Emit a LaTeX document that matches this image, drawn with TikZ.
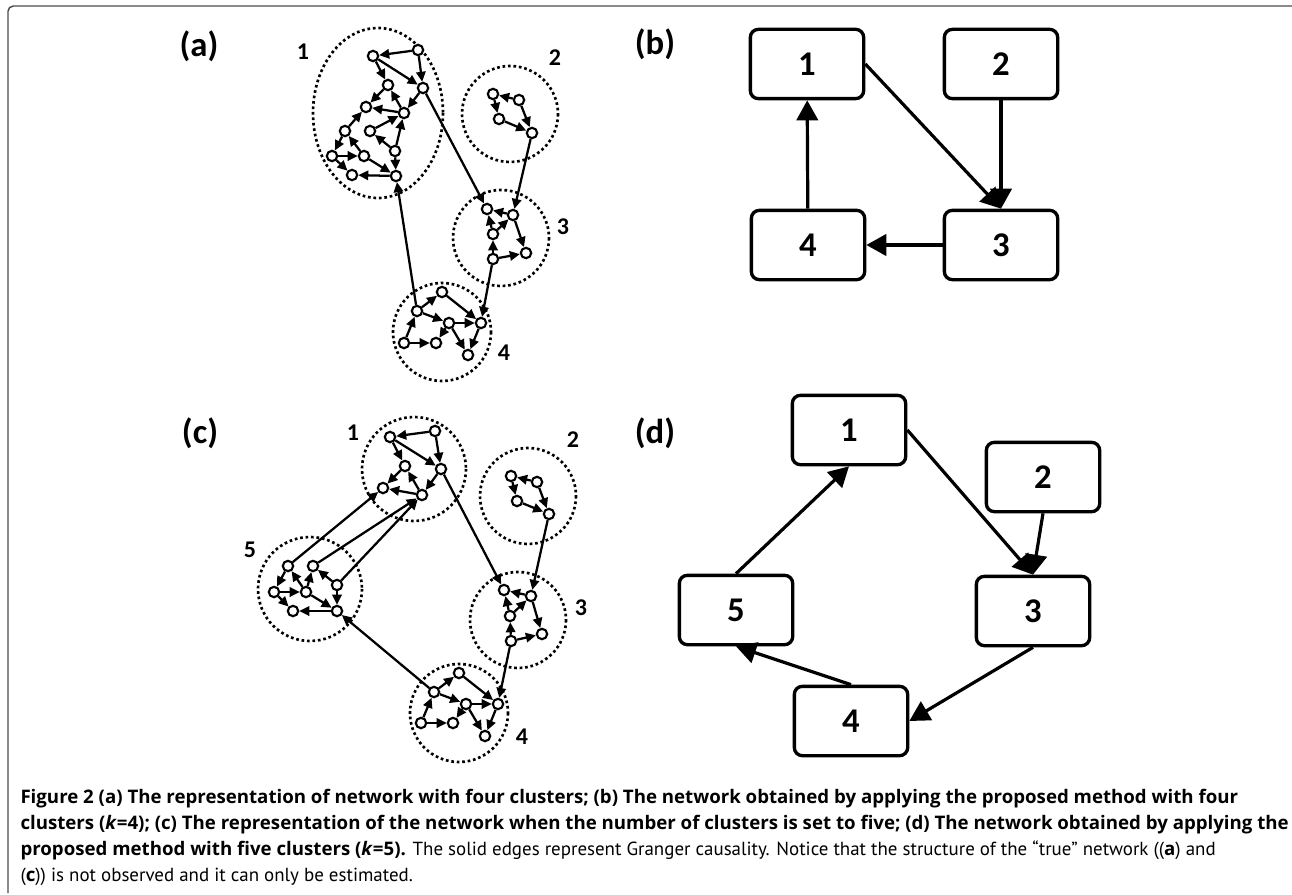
\documentclass[tikz,border=0pt]{standalone}
\usepackage{fontspec}
\setmainfont{Carlito}
\newfontfamily\capfont{PT Sans}
\newfontfamily\capbf{Open Sans}
\usetikzlibrary{arrows.meta}

\tikzset{every picture/.style={line width=0.75pt}}
\tikzset{
  vtx/.style={circle,draw,fill=white,line width=1.6pt,inner sep=0pt,minimum size=7.8pt},
  arr/.style={line width=1.7pt,-{Triangle[length=7.5pt,width=7pt]}},
  clus/.style={line width=2pt,dash pattern=on 2pt off 2.1pt},
  bx/.style={draw,line width=2.5pt,rounded corners=6pt,minimum width=85pt,minimum height=52pt,inner sep=0pt,font=\bfseries\fontsize{26}{26}\selectfont},
  barr/.style={line width=2.4pt,-{Triangle[length=15pt,width=16pt]}},
  plab/.style={inner sep=0pt,font=\bfseries\fontsize{26}{26}\selectfont},
  clab/.style={inner sep=0pt,font=\bfseries\fontsize{18}{18}\selectfont},
}
\newcommand{\capb}[1]{{\capbf\fontsize{14}{19.5}\selectfont\bfseries #1}}

\begin{document}
\begin{tikzpicture}[x=0.75pt,y=0.75pt,yscale=-1,xscale=1]
\useasboundingbox (0,0) rectangle (1292,895);

%Frame
\draw [color={rgb, 255:red, 77; green, 77; blue, 77 }, line width=1.1pt, rounded corners=4] (8,893) -- (8,6) -- (1292,6) ;

% Text Node
\node[plab] (la) at (199,46) {(a)};
\node[plab] (lb) at (655,44) {(b)};
\node[plab] (lc) at (200,433) {(c)};
\node[plab] (ld) at (655,433) {(d)};

%Clusters (a)
\draw [clus] (378,113) ellipse [x radius=65, y radius=85] ;
\draw [clus] (510,114) circle [radius=48] ;
\draw [clus] (501,238) circle [radius=48] ;
\draw [clus] (442,332) circle [radius=49] ;
\node[clab] (ka1) at (303,52) {1};
\node[clab] (ka2) at (555,58) {2};
\node[clab] (ka3) at (563,227) {3};
\node[clab] (ka4) at (504,353) {4};

%Vertices cluster 1
\node[vtx] (u1) at (418,50) {};
\node[vtx] (u2) at (373,56) {};
\node[vtx] (u3) at (423,88) {};
\node[vtx] (u4) at (388,85) {};
\node[vtx] (u5) at (366,107) {};
\node[vtx] (u6) at (404,113) {};
\node[vtx] (u7) at (345,131) {};
\node[vtx] (u8) at (370,131) {};
\node[vtx] (u9) at (332,156) {};
\node[vtx] (u10) at (364,156) {};
\node[vtx] (u11) at (395,151) {};
\node[vtx] (u12) at (352,175) {};
\node[vtx] (u13) at (396,176) {};
%Vertices cluster 2
\node[vtx] (v1) at (493,94) {};
\node[vtx] (v2) at (519,100) {};
\node[vtx] (v3) at (499,119) {};
\node[vtx] (v4) at (532,133) {};
%Vertices cluster 3
\node[vtx] (w1) at (487,209) {};
\node[vtx] (w2) at (513,215) {};
\node[vtx] (w3) at (493,234) {};
\node[vtx] (w4) at (493,259) {};
\node[vtx] (w5) at (526,253) {};
%Vertices cluster 4
\node[vtx] (z1) at (417,311) {};
\node[vtx] (z2) at (442,292) {};
\node[vtx] (z3) at (449,323) {};
\node[vtx] (z4) at (481,323) {};
\node[vtx] (z5) at (404,343) {};
\node[vtx] (z6) at (436,343) {};
\node[vtx] (z7) at (468,355) {};

%Edges (a)
\draw [arr] (u1) -- (u2) ; \draw [arr] (u2) -- (u3) ; \draw [arr] (u1) -- (u3) ;
\draw [arr] (u2) -- (u4) ; \draw [arr] (u3) -- (u6) ; \draw [arr] (u6) -- (u4) ;
\draw [arr] (u4) -- (u5) ; \draw [arr] (u6) -- (u5) ; \draw [arr] (u7) -- (u5) ;
\draw [arr] (u7) -- (u9) ; \draw [arr] (u10) -- (u7) ; \draw [arr] (u9) -- (u10) ;
\draw [arr] (u9) -- (u12) ; \draw [arr] (u13) -- (u12) ; \draw [arr] (u10) -- (u13) ;
\draw [arr] (u11) -- (u13) ; \draw [arr] (u11) -- (u8) ; \draw [arr] (u8) -- (u6) ;
\draw [arr] (u11) -- (u6) ;
\draw [arr] (v2) -- (v1) ; \draw [arr] (v1) -- (v3) ; \draw [arr] (v3) -- (v4) ; \draw [arr] (v2) -- (v4) ;
\draw [arr] (w2) -- (w1) ; \draw [arr] (w3) -- (w1) ; \draw [arr] (w3) -- (w2) ;
\draw [arr] (w4) -- (w3) ; \draw [arr] (w4) -- (w5) ; \draw [arr] (w2) -- (w5) ;
\draw [arr] (z1) -- (z2) ; \draw [arr] (z5) -- (z1) ; \draw [arr] (z1) -- (z3) ;
\draw [arr] (z2) -- (z4) ; \draw [arr] (z3) -- (z4) ; \draw [arr] (z5) -- (z6) ;
\draw [arr] (z3) -- (z6) ; \draw [arr] (z3) -- (z7) ; \draw [arr] (z4) -- (z7) ;
\draw [arr] (u3) -- (w1) ; \draw [arr] (v4) -- (w2) ; \draw [arr] (w4) -- (z4) ; \draw [arr] (z1) -- (u13) ;

%Clusters (c)
\draw [clus] (414,469) circle [radius=52] ;
\draw [clus] (528,496) circle [radius=48] ;
\draw [clus] (518,620) circle [radius=48] ;
\draw [clus] (459,713) circle [radius=49] ;
\draw [clus] (310,589) circle [radius=52] ;
\node[clab] (kc1) at (353,433) {1};
\node[clab] (kc2) at (573,440) {2};
\node[clab] (kc3) at (581,608) {3};
\node[clab] (kc4) at (522,737) {4};
\node[clab] (kc5) at (250,550) {5};

%Vertices cluster 1
\node[vtx] (cu1) at (435,431) {};
\node[vtx] (cu2) at (390,437) {};
\node[vtx] (cu3) at (441,469) {};
\node[vtx] (cu4) at (405,466) {};
\node[vtx] (cu5) at (383,488) {};
\node[vtx] (cu6) at (422,495) {};
%Vertices cluster 2
\node[vtx] (cv1) at (511,476) {};
\node[vtx] (cv2) at (537,482) {};
\node[vtx] (cv3) at (517,501) {};
\node[vtx] (cv4) at (549,514) {};
%Vertices cluster 3
\node[vtx] (cw1) at (504,590) {};
\node[vtx] (cw2) at (531,596) {};
\node[vtx] (cw3) at (510,616) {};
\node[vtx] (cw4) at (511,641) {};
\node[vtx] (cw5) at (542,634) {};
%Vertices cluster 4
\node[vtx] (cz1) at (434,692) {};
\node[vtx] (cz2) at (459,673) {};
\node[vtx] (cz3) at (466,704) {};
\node[vtx] (cz4) at (498,704) {};
\node[vtx] (cz5) at (421,723) {};
\node[vtx] (cz6) at (453,723) {};
\node[vtx] (cz7) at (485,736) {};
%Vertices cluster 5
\node[vtx] (cs1) at (288,566) {};
\node[vtx] (cs2) at (313,566) {};
\node[vtx] (cs3) at (274,592) {};
\node[vtx] (cs4) at (306,592) {};
\node[vtx] (cs5) at (337,585) {};
\node[vtx] (cs6) at (293,611) {};
\node[vtx] (cs7) at (337,611) {};

%Edges (c)
\draw [arr] (cu1) -- (cu2) ; \draw [arr] (cu2) -- (cu3) ; \draw [arr] (cu1) -- (cu3) ;
\draw [arr] (cu2) -- (cu4) ; \draw [arr] (cu3) -- (cu6) ; \draw [arr] (cu6) -- (cu4) ;
\draw [arr] (cu4) -- (cu5) ; \draw [arr] (cu6) -- (cu5) ;
\draw [arr] (cv2) -- (cv1) ; \draw [arr] (cv1) -- (cv3) ; \draw [arr] (cv3) -- (cv4) ; \draw [arr] (cv2) -- (cv4) ;
\draw [arr] (cw2) -- (cw1) ; \draw [arr] (cw3) -- (cw1) ; \draw [arr] (cw3) -- (cw2) ;
\draw [arr] (cw4) -- (cw3) ; \draw [arr] (cw4) -- (cw5) ; \draw [arr] (cw2) -- (cw5) ;
\draw [arr] (cz1) -- (cz2) ; \draw [arr] (cz5) -- (cz1) ; \draw [arr] (cz1) -- (cz3) ;
\draw [arr] (cz2) -- (cz4) ; \draw [arr] (cz3) -- (cz4) ; \draw [arr] (cz5) -- (cz6) ;
\draw [arr] (cz3) -- (cz6) ; \draw [arr] (cz3) -- (cz7) ; \draw [arr] (cz4) -- (cz7) ;
\draw [arr] (cs1) -- (cs3) ; \draw [arr] (cs4) -- (cs1) ; \draw [arr] (cs3) -- (cs4) ;
\draw [arr] (cs4) -- (cs2) ; \draw [arr] (cs5) -- (cs2) ; \draw [arr] (cs3) -- (cs6) ;
\draw [arr] (cs7) -- (cs6) ; \draw [arr] (cs4) -- (cs7) ; \draw [arr] (cs5) -- (cs7) ;
\draw [arr] (cs1) -- (cu5) ; \draw [arr] (cs2) -- (cu6) ; \draw [arr] (cs5) -- (cu6) ;
\draw [arr] (cu3) -- (cw1) ; \draw [arr] (cv4) -- (cw2) ; \draw [arr] (cw4) -- (cz4) ; \draw [arr] (cz1) -- (cs7) ;

%Boxes (b)
\node[bx] (b1) at (807,64) {1};
\node[bx] (b2) at (1001,64) {2};
\node[bx] (b3) at (1001,245) {3};
\node[bx] (b4) at (808,245) {4};
\draw [barr] (b1.east) -- (b3.north) ;
\draw [barr] (b2) -- (b3) ;
\draw [barr] (b3) -- (b4) ;
\draw [barr] (b4) -- (b1) ;

%Boxes (d)
\node[bx] (d1) at (849,430) {1};
\node[bx] (d2) at (1043,477) {2};
\node[bx] (d3) at (1033,611) {3};
\node[bx] (d4) at (851,721) {4};
\node[bx] (d5) at (736,610) {5};
\draw [barr] (d1.east) -- (d3.north) ;
\draw [barr] (d2.south) -- (d3.north) ;
\draw [barr] (d3.south) -- (d4.east) ;
\draw [barr] (d4.north) -- (d5.south) ;
\draw [barr] (d5.north) -- (d1.south) ;

% Caption
\node[anchor=north west, inner sep=0pt, align=left, font=\capfont\fontsize{14.2}{19.5}\selectfont] (cap) at (20,789) {\capb{Figure 2 (a) The representation of network with four clusters; (b) The network obtained by applying the proposed method with four}\\
\capb{clusters (\textit{k}=4); (c) The representation of the network when the number of clusters is set to five; (d) The network obtained by applying the}\\
\capb{proposed method with five clusters (\textit{k}=5).} The solid edges represent Granger causality. Notice that the structure of the “true” network ((\capb{a}) and\\
(\capb{c})) is not observed and it can only be estimated.};

\end{tikzpicture}
\end{document}
